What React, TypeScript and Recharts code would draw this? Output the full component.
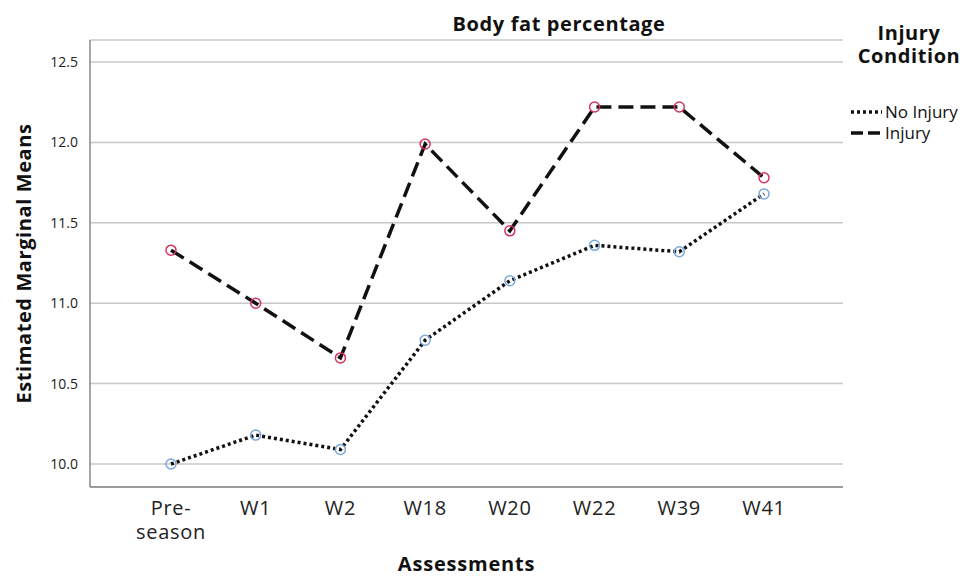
import React from "react";
import {
  LineChart,
  Line,
  XAxis,
  YAxis,
  CartesianGrid,
} from "recharts";

document.body.style.margin = "0";

const assessments = ["Pre-\nseason", "W1", "W2", "W18", "W20", "W22", "W39", "W41"];
const noInjury = [10.0, 10.18, 10.09, 10.77, 11.14, 11.36, 11.32, 11.68];
const injury = [11.33, 11.0, 10.66, 11.99, 11.45, 12.22, 12.22, 11.78];
const yTicks = [10.0, 10.5, 11.0, 11.5, 12.0, 12.5];

const data = assessments.map((a, i) => ({
  assessment: a,
  noInjury: noInjury[i],
  injury: injury[i],
}));

const FONT = "'Open Sans', sans-serif";

function AssessmentTick(props: any) {
  const { x, y, payload } = props;
  const lines = String(payload.value).split("\n");
  return (
    <text x={x} y={y} textAnchor="middle" fontFamily={FONT} fontSize={20} fill="#222" letterSpacing={0.7}>
      {lines.map((l, i) => (
        <tspan key={i} x={x} dy={i === 0 ? 20 : 24}>
          {l}
        </tspan>
      ))}
    </text>
  );
}

export default function App() {
  return (
    <div style={{ position: "relative", width: 968, height: 577, background: "#fff", fontFamily: FONT }}>
      <div
        style={{
          position: "absolute",
          left: 0,
          width: 1118,
          top: 10,
          textAlign: "center",
          fontWeight: 700,
          fontSize: 20,
          letterSpacing: 0.6,
          color: "#111",
        }}
      >
        Body fat percentage
      </div>
      <LineChart
        width={968}
        height={577}
        data={data}
        margin={{ top: 40, right: 125, bottom: 0, left: 0 }}
      >
        <CartesianGrid vertical={false} stroke="#c8c8c8" strokeWidth={1.5} />
        <XAxis
          dataKey="assessment"
          height={90}
          padding={{ left: 81, right: 79 }}
          tickLine={false}
          stroke="#888"
          strokeWidth={1.5}
          tick={<AssessmentTick />}
          interval={0}
          label={{
            value: "Assessments",
            position: "insideBottom",
            offset: 6,
            style: { fontSize: 20, fontWeight: 700, fill: "#111", fontFamily: FONT, letterSpacing: 0.8 },
          }}
        />
        <YAxis
          width={90}
          domain={[9.857, 12.637]}
          ticks={yTicks}
          tickFormatter={(v: number) => v.toFixed(1)}
          tickLine={false}
          stroke="#888"
          strokeWidth={1.5}
          tickMargin={6}
          tick={{ fontSize: 14, fill: "#222", fontFamily: FONT }}
          label={{
            value: "Estimated Marginal Means",
            angle: -90,
            position: "insideLeft",
            offset: 24,
            style: {
              fontSize: 20,
              fontWeight: 700,
              fill: "#111",
              textAnchor: "middle",
              fontFamily: FONT,
              letterSpacing: 0.6,
            },
          }}
        />
        <Line
          dataKey="noInjury"
          stroke="#111"
          strokeWidth={3.5}
          strokeDasharray="3 3"
          dot={{ r: 5, stroke: "#7aa9dc", strokeWidth: 1.5, fill: "none", strokeDasharray: "" }}
          isAnimationActive={false}
        />
        <Line
          dataKey="injury"
          stroke="#111"
          strokeWidth={3.5}
          strokeDasharray="15 7"
          dot={{ r: 5, stroke: "#d6325c", strokeWidth: 1.5, fill: "none", strokeDasharray: "" }}
          isAnimationActive={false}
        />
      </LineChart>
      <div style={{ position: "absolute", left: 850, top: 21, width: 118, color: "#111" }}>
        <div style={{ textAlign: "center", fontWeight: 700, fontSize: 20, lineHeight: "23px", letterSpacing: 0.6 }}>
          Injury
          <br />
          Condition
        </div>
        <div style={{ marginTop: 34, fontSize: 17, lineHeight: "21px" }}>
          <div style={{ display: "flex", alignItems: "center" }}>
            <svg width={32} height={8}>
              <line x1={1} y1={4} x2={32} y2={4} stroke="#111" strokeWidth={3.5} strokeDasharray="3 3" />
            </svg>
            <span style={{ marginLeft: 3 }}>No Injury</span>
          </div>
          <div style={{ display: "flex", alignItems: "center" }}>
            <svg width={32} height={8}>
              <line x1={1} y1={4} x2={32} y2={4} stroke="#111" strokeWidth={3.5} strokeDasharray="12 5" />
            </svg>
            <span style={{ marginLeft: 3 }}>Injury</span>
          </div>
        </div>
      </div>
    </div>
  );
}
